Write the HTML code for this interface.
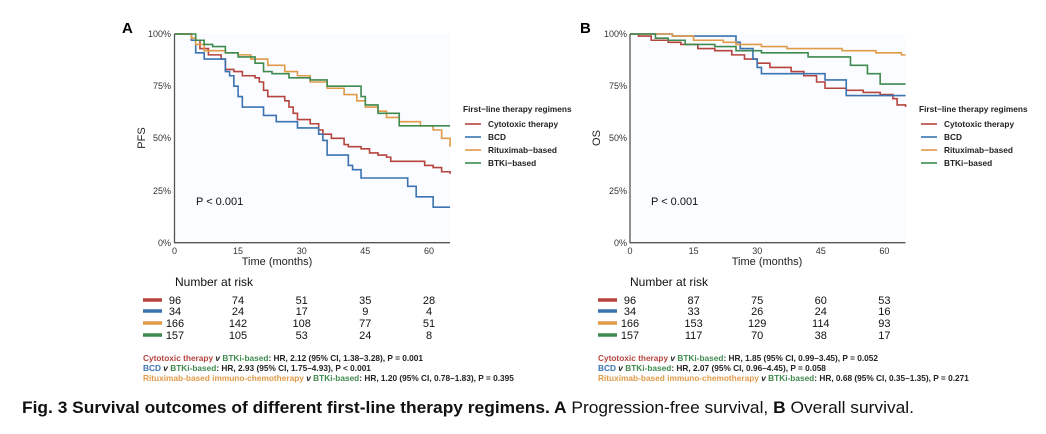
<!DOCTYPE html>
<html><head><meta charset="utf-8"><style>
html,body{margin:0;padding:0;background:#fff;}
svg{display:block;font-family:"Liberation Sans",Arial,sans-serif;}
.ax{stroke:#555;stroke-width:1.3;fill:none}
.s{fill:none;stroke-width:1.6;vector-effect:non-scaling-stroke}
.tk{font-size:9px;fill:#333}
.nr{font-size:11px;fill:#111;text-anchor:middle}
.hr{font-size:8.3px;font-weight:bold;fill:#222}
.lg{font-size:8.3px;font-weight:bold;fill:#222}
</style></head><body>
<svg width="1046" height="434" viewBox="0 0 1046 434">
<!-- Panel A -->
<text x="122" y="33" font-size="15" font-weight="bold">A</text>
<rect x="174.5" y="34" width="275.5" height="208.7" fill="#fafcff"/>
<g class="tk" text-anchor="end">
<text x="171" y="37">100%</text><text x="171" y="89">75%</text><text x="171" y="141">50%</text><text x="171" y="194">25%</text><text x="171" y="246">0%</text></g>
<g class="tk" text-anchor="middle">
<text x="174.5" y="254">0</text><text x="238" y="254">15</text><text x="301.7" y="254">30</text><text x="365.3" y="254">45</text><text x="429" y="254">60</text></g>
<text x="277" y="265" font-size="11" text-anchor="middle" fill="#222">Time (months)</text>
<text transform="translate(145,138) rotate(-90)" font-size="11" text-anchor="middle" fill="#222">PFS</text>
<text x="196" y="205" font-size="11" fill="#111">P &lt; 0.001</text>
<g transform="translate(174.5,242.7) scale(4.24,-2.087)">
<path class="s" stroke="#b5443e" d="M0,100 H4 V97 H6 V93 H8 V90 H11 V88 H12 V83 H14 V82 H16 V80 H19 V79 H20 V77 H21 V73 H22 V70 H26 V68 H27 V65 H28 V62 H29 V59 H32 V57 H34 V54 H35 V52 H37 V50 H40 V47 H41 V46 H44 V45 H46 V43 H48 V42 H50 V41 H51 V39 H59 V37 H61 V36 H63 V34 H65 V33"/>
<path class="s" stroke="#3a73b0" d="M0,100 H4 V97 H5 V91 H7 V88 H12 V82 H13 V80 H14 V75 H15 V70 H16 V65 H21 V61 H24 V58 H29 V55 H34 V52 H35 V49 H36 V42 H41 V37 H42 V35 H44 V31 H55 V27 H57 V22 H61 V17 H65"/>
<path class="s" stroke="#e09a48" d="M0,100 H4 V98 H5 V95 H7 V92 H12 V91 H15 V90 H18 V88 H22 V85 H26 V82 H29 V80 H32 V77 H36 V74 H40 V71 H43 V68 H45 V65 H48 V63 H50 V60 H53 V58 H58 V56 H61 V54 H63 V50 H65 V46"/>
<path class="s" stroke="#3f8a4f" d="M0,100 H5 V97 H7 V95 H9 V94 H12 V91 H15 V89 H19 V86 H21 V82 H23 V81 H27 V79 H32 V78 H36 V75 H44 V70 H45 V66 H48 V62 H53 V56 H65"/>
</g>
<path class="ax" d="M174.5,34 V242.7 H450"/>
<g class="lg">
<text x="463" y="112">First−line therapy regimens</text>
<line x1="465" y1="124" x2="481" y2="124" stroke="#b5443e" stroke-width="1.6"/><text x="488" y="127">Cytotoxic therapy</text>
<line x1="465" y1="137" x2="481" y2="137" stroke="#3a73b0" stroke-width="1.6"/><text x="488" y="140">BCD</text>
<line x1="465" y1="150" x2="481" y2="150" stroke="#e09a48" stroke-width="1.6"/><text x="488" y="153">Rituximab−based</text>
<line x1="465" y1="163" x2="481" y2="163" stroke="#3f8a4f" stroke-width="1.6"/><text x="488" y="166">BTKi−based</text>
</g>
<text x="175" y="286" font-size="12" fill="#111">Number at risk</text>
<g stroke-width="3.5">
<line x1="143" y1="300" x2="162" y2="300" stroke="#b5443e"/><line x1="143" y1="311" x2="162" y2="311" stroke="#3a73b0"/><line x1="143" y1="323" x2="162" y2="323" stroke="#e09a48"/><line x1="143" y1="335" x2="162" y2="335" stroke="#3f8a4f"/></g>
<g class="nr">
<text x="175" y="304">96</text><text x="238" y="304">74</text><text x="301.7" y="304">51</text><text x="365.3" y="304">35</text><text x="429" y="304">28</text>
<text x="175" y="315">34</text><text x="238" y="315">24</text><text x="301.7" y="315">17</text><text x="365.3" y="315">9</text><text x="429" y="315">4</text>
<text x="175" y="327">166</text><text x="238" y="327">142</text><text x="301.7" y="327">108</text><text x="365.3" y="327">77</text><text x="429" y="327">51</text>
<text x="175" y="339">157</text><text x="238" y="339">105</text><text x="301.7" y="339">53</text><text x="365.3" y="339">24</text><text x="429" y="339">8</text></g>
<g class="hr">
<text x="143" y="361"><tspan fill="#b5443e">Cytotoxic therapy</tspan> <tspan font-style="italic">v</tspan> <tspan fill="#3f8a4f">BTKi-based</tspan>: HR, 2.12 (95% CI, 1.38–3.28), P = 0.001</text>
<text x="143" y="371"><tspan fill="#3a73b0">BCD</tspan> <tspan font-style="italic">v</tspan> <tspan fill="#3f8a4f">BTKi-based</tspan>: HR, 2.93 (95% CI, 1.75–4.93), P &lt; 0.001</text>
<text x="143" y="381"><tspan fill="#e09a48">Rituximab-based immuno-chemotherapy</tspan> <tspan font-style="italic">v</tspan> <tspan fill="#3f8a4f">BTKi-based</tspan>: HR, 1.20 (95% CI, 0.78–1.83), P = 0.395</text>
</g>
<!-- Panel B -->
<text x="580" y="33" font-size="15" font-weight="bold">B</text>
<rect x="630" y="34" width="275.5" height="208.7" fill="#fafcff"/>
<g class="tk" text-anchor="end">
<text x="627" y="37">100%</text><text x="627" y="89">75%</text><text x="627" y="141">50%</text><text x="627" y="194">25%</text><text x="627" y="246">0%</text></g>
<g class="tk" text-anchor="middle">
<text x="630" y="254">0</text><text x="693.6" y="254">15</text><text x="757.2" y="254">30</text><text x="820.8" y="254">45</text><text x="884.4" y="254">60</text></g>
<text x="767" y="265" font-size="11" text-anchor="middle" fill="#222">Time (months)</text>
<text transform="translate(600,138) rotate(-90)" font-size="11" text-anchor="middle" fill="#222">OS</text>
<text x="651" y="205" font-size="11" fill="#111">P &lt; 0.001</text>
<g transform="translate(630,242.7) scale(4.24,-2.087)">
<path class="s" stroke="#b5443e" d="M0,100 H2 V99 H5 V97 H9 V96 H12 V95 H16 V93 H20 V92 H24 V90 H27 V88 H30 V86 H33 V84 H38 V82 H41 V80 H44 V77 H46 V74 H51 V73 H55 V72 H59 V71 H62 V69 H63 V66 H65 V65"/>
<path class="s" stroke="#3a73b0" d="M0,100 H10 V99 H25 V96 H26 V93 H29 V88 H30 V84 H31 V81 H46 V78 H51 V70.5 H65"/>
<path class="s" stroke="#e09a48" d="M0,100 H10 V99 H15 V97 H22 V96 H25 V95 H31 V94 H37 V93 H50 V92 H58 V91 H64 V90 H65"/>
<path class="s" stroke="#3f8a4f" d="M0,100 H6 V98 H9 V97 H13 V95 H20 V94 H25 V92 H31 V91 H42 V89 H52 V85 H56 V81 H59 V76 H65"/>
</g>
<path class="ax" d="M630,34 V242.7 H905.5"/>
<g class="lg">
<text x="919" y="112">First−line therapy regimens</text>
<line x1="921" y1="124" x2="937" y2="124" stroke="#b5443e" stroke-width="1.6"/><text x="944" y="127">Cytotoxic therapy</text>
<line x1="921" y1="137" x2="937" y2="137" stroke="#3a73b0" stroke-width="1.6"/><text x="944" y="140">BCD</text>
<line x1="921" y1="150" x2="937" y2="150" stroke="#e09a48" stroke-width="1.6"/><text x="944" y="153">Rituximab−based</text>
<line x1="921" y1="163" x2="937" y2="163" stroke="#3f8a4f" stroke-width="1.6"/><text x="944" y="166">BTKi−based</text>
</g>
<text x="630" y="286" font-size="12" fill="#111">Number at risk</text>
<g stroke-width="3.5">
<line x1="598" y1="300" x2="617" y2="300" stroke="#b5443e"/><line x1="598" y1="311" x2="617" y2="311" stroke="#3a73b0"/><line x1="598" y1="323" x2="617" y2="323" stroke="#e09a48"/><line x1="598" y1="335" x2="617" y2="335" stroke="#3f8a4f"/></g>
<g class="nr">
<text x="630" y="304">96</text><text x="693.6" y="304">87</text><text x="757.2" y="304">75</text><text x="820.8" y="304">60</text><text x="884.4" y="304">53</text>
<text x="630" y="315">34</text><text x="693.6" y="315">33</text><text x="757.2" y="315">26</text><text x="820.8" y="315">24</text><text x="884.4" y="315">16</text>
<text x="630" y="327">166</text><text x="693.6" y="327">153</text><text x="757.2" y="327">129</text><text x="820.8" y="327">114</text><text x="884.4" y="327">93</text>
<text x="630" y="339">157</text><text x="693.6" y="339">117</text><text x="757.2" y="339">70</text><text x="820.8" y="339">38</text><text x="884.4" y="339">17</text></g>
<g class="hr">
<text x="598" y="361"><tspan fill="#b5443e">Cytotoxic therapy</tspan> <tspan font-style="italic">v</tspan> <tspan fill="#3f8a4f">BTKi-based</tspan>: HR, 1.85 (95% CI, 0.99–3.45), P = 0.052</text>
<text x="598" y="371"><tspan fill="#3a73b0">BCD</tspan> <tspan font-style="italic">v</tspan> <tspan fill="#3f8a4f">BTKi-based</tspan>: HR, 2.07 (95% CI, 0.96–4.45), P = 0.058</text>
<text x="598" y="381"><tspan fill="#e09a48">Rituximab-based immuno-chemotherapy</tspan> <tspan font-style="italic">v</tspan> <tspan fill="#3f8a4f">BTKi-based</tspan>: HR, 0.68 (95% CI, 0.35–1.35), P = 0.271</text>
</g>
<text x="22" y="413" font-size="16.5" fill="#111" textLength="892" lengthAdjust="spacingAndGlyphs"><tspan font-weight="bold">Fig. 3   Survival outcomes of different first-line therapy regimens. A</tspan> Progression-free survival, <tspan font-weight="bold">B</tspan> Overall survival.</text>
</svg>
</body></html>
